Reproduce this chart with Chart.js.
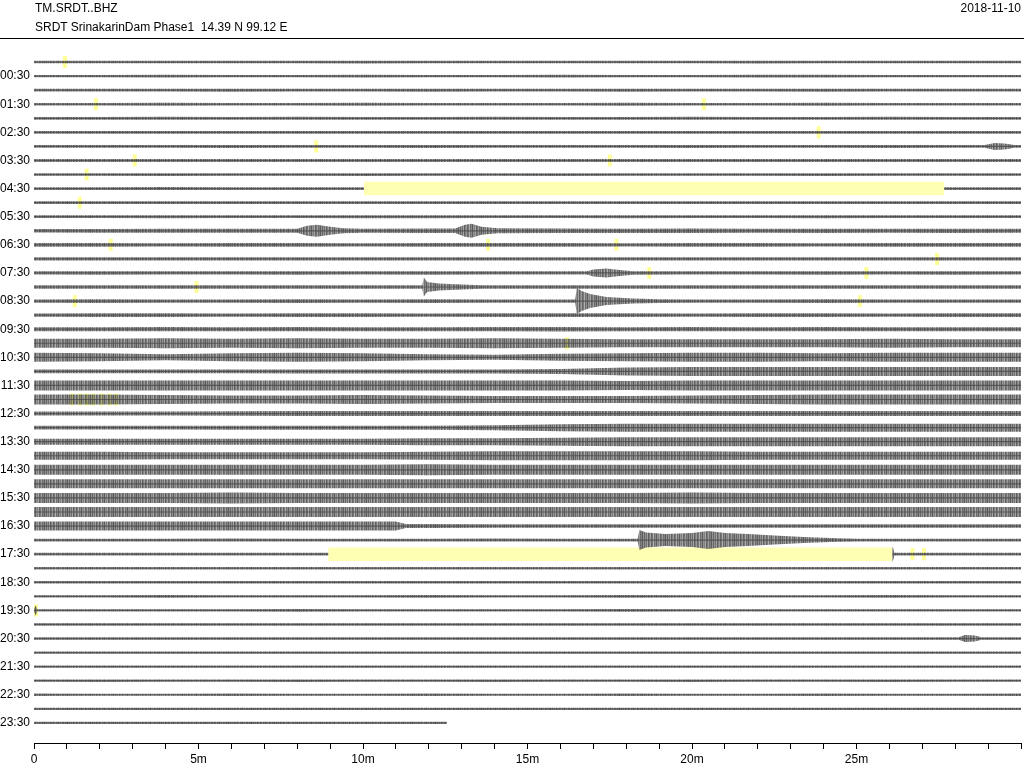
<!DOCTYPE html>
<html>
<head>
<meta charset="utf-8">
<script src="https://cdn.jsdelivr.net/npm/chart.js@4.4.0/dist/chart.umd.min.js"></script>
<style>
  body { margin: 0; background: #fff; font-family: "Liberation Sans", Arial, sans-serif; }
  #wrap { position: relative; width: 1024px; height: 768px; overflow: hidden; }
  canvas { position: absolute; left: 0; top: 0; }
  .hdr { position: absolute; font-size: 12px; line-height: 14px; color: #000; white-space: pre; }
  #rule { position: absolute; left: 0; top: 38px; width: 1024px; height: 1px; background: #000; }
</style>
</head>
<body>
<div id="wrap">
  <canvas id="heli" width="1024" height="768"></canvas>
  <div class="hdr" style="left:35px; top:1px">TM.SRDT..BHZ</div>
  <div class="hdr" style="left:35px; top:20px">SRDT SrinakarinDam Phase1  14.39 N 99.12 E</div>
  <div class="hdr" style="right:3px; top:1px">2018-11-10</div>
  <div id="rule"></div>
</div>
<script>
//////////////// DATA
// minute marks where the envelope of every trace line is read
const sampleMinutes = [0, 2, 4, 6, 8, 10, 12, 14, 16, 18, 20, 22, 24, 26, 28, 30];

// labels on the odd rows (row 1 = 00:30 ... row 47 = 23:30)
const rowLabels = [
  '00:30', '01:30', '02:30', '03:30', '04:30', '05:30', '06:30', '07:30',
  '08:30', '09:30', '10:30', '11:30', '12:30', '13:30', '14:30', '15:30',
  '16:30', '17:30', '18:30', '19:30', '20:30', '21:30', '22:30', '23:30',
];

const xTickMinutes = [0, 5, 10, 15, 20, 25];
const xTickLabels = ['0', '5m', '10m', '15m', '20m', '25m'];

// half amplitude of each trace at the sample minutes (one list per 30 min row)
const ampRows00to05 = [
  [1.3,1.3,1.2,1.3,1.3,1.4,1.3,1.3,1.2,1.3,1.3,1.4,1.3,1.3,1.3,1.3],
  [1.2,1.2,1.3,1.2,1.2,1.3,1.2,1.2,1.3,1.2,1.2,1.3,1.3,1.2,1.2,1.2],
  [1.4,1.4,1.4,1.5,1.4,1.4,1.5,1.4,1.4,1.5,1.4,1.4,1.5,1.4,1.4,1.4],
  [1.3,1.3,1.4,1.3,1.3,1.4,1.3,1.3,1.3,1.4,1.3,1.3,1.4,1.3,1.3,1.3],
  [1.4,1.4,1.5,1.4,1.5,1.4,1.4,1.5,1.4,1.4,1.5,1.4,1.4,1.5,1.4,1.4],
  [1.3,1.3,1.4,1.3,1.3,1.3,1.4,1.3,1.3,1.4,1.3,1.3,1.3,1.4,1.3,1.3],
  [1.4,1.4,1.4,1.5,1.4,1.4,1.5,1.4,1.4,1.4,1.5,1.4,1.4,1.5,1.4,1.4],
  [1.4,1.5,1.4,1.4,1.5,1.4,1.4,1.5,1.4,1.4,1.5,1.4,1.4,1.4,1.5,1.4],
  [1.3,1.3,1.4,1.3,1.3,1.4,1.3,1.3,1.4,1.3,1.3,1.3,1.4,1.3,1.3,1.3],
  [1.4,1.4,1.5,1.4,1.4,1.4,1.5,1.4,1.4,1.4,1.4,1.4,1.4,1.5,1.4,1.4],
  [1.3,1.4,1.3,1.3,1.4,1.3,1.3,1.4,1.3,1.3,1.4,1.3,1.3,1.4,1.3,1.3],
  [1.4,1.4,1.5,1.4,1.4,1.5,1.5,1.4,1.4,1.5,1.4,1.4,1.5,1.4,1.4,1.4],
];
const ampRows06to11 = [
  [1.8,1.9,2.0,2.0,2.1,2.0,2.2,2.0,2.2,2.1,2.2,2.0,2.1,2.0,2.1,2.0],
  [1.8,1.8,1.7,1.8,1.8,1.7,1.8,1.8,1.8,1.7,1.8,1.8,1.7,1.8,1.8,1.8],
  [1.6,1.6,1.7,1.6,1.6,1.7,1.6,1.6,1.7,1.6,1.6,1.7,1.6,1.6,1.7,1.6],
  [1.6,1.7,1.6,1.6,1.7,1.6,1.7,1.6,1.6,1.7,1.6,1.6,1.7,1.6,1.7,1.6],
  [1.7,1.7,1.8,1.7,1.7,1.8,1.7,1.7,1.8,1.7,1.7,1.8,1.7,1.7,1.8,1.7],
  [1.7,1.8,1.7,1.7,1.8,1.7,1.8,1.7,1.7,1.8,1.7,1.7,1.8,1.7,1.7,1.7],
  [1.7,1.8,1.8,1.7,1.8,1.8,1.7,1.8,1.8,1.8,1.7,1.8,1.8,1.7,1.8,1.8],
  [2.0,2.0,2.1,2.0,2.1,2.0,2.0,2.1,2.2,2.0,2.1,2.0,2.1,2.0,2.0,2.0],
  [4.5,4.5,5.0,4.5,5.0,4.5,4.5,5.0,4.5,4.0,4.0,4.0,4.0,4.5,4.0,4.0],
  [4.5,4.0,3.0,4.0,4.5,4.0,3.0,2.5,3.5,4.0,4.5,4.5,4.0,4.5,4.5,4.5],
  [1.8,1.8,1.8,1.8,2.0,2.0,2.0,2.0,2.5,4.0,4.5,4.5,4.5,4.5,4.5,4.5],
  [5.0,5.0,5.0,5.0,5.0,5.0,5.0,5.0,5.0,4.5,5.0,5.0,5.0,5.0,5.0,5.0],
];
const ampRows12to17 = [
  [5.0,5.0,4.5,4.0,4.0,4.5,4.0,3.5,3.5,3.5,4.0,4.5,5.0,5.0,5.0,5.0],
  [2.0,2.0,2.0,2.2,2.5,2.5,2.5,2.5,2.5,2.5,2.5,2.5,2.5,2.5,2.5,2.5],
  [1.8,1.8,1.8,2.0,2.0,2.0,2.0,2.5,3.5,4.0,4.0,4.0,4.0,4.0,4.0,4.0],
  [3.0,3.0,3.0,3.0,3.0,3.0,3.5,3.5,4.0,4.5,4.5,4.5,4.5,4.5,4.5,4.5],
  [4.0,4.0,3.5,3.5,3.5,3.5,4.0,4.5,4.5,4.5,4.5,4.0,4.0,4.0,4.0,4.0],
  [5.0,5.0,5.0,5.0,5.0,5.0,5.5,5.0,5.0,5.0,5.0,5.0,5.0,5.0,5.0,5.0],
  [4.5,4.5,4.5,4.5,4.5,4.5,4.5,4.5,4.5,4.5,4.5,4.5,4.5,4.5,4.5,4.5],
  [5.0,5.0,5.0,5.5,5.0,5.0,5.0,5.0,5.0,5.0,5.5,5.0,5.0,5.0,5.0,5.0],
  [5.0,5.0,5.0,5.0,5.0,5.0,5.0,5.0,5.0,5.0,5.0,5.0,5.0,5.0,5.0,5.0],
  [4.5,4.5,4.5,4.5,4.5,4.5,2.0,1.8,1.8,1.8,1.8,1.8,1.8,1.8,1.8,1.8],
  [1.4,1.4,1.4,1.5,1.4,1.4,1.4,1.5,1.4,1.4,1.4,1.4,1.4,1.4,1.4,1.4],
  [1.3,1.3,1.3,1.3,1.4,1.3,1.3,1.3,1.3,1.3,1.3,1.3,1.3,1.3,1.3,1.3],
];
const ampRows18to23 = [
  [1.3,1.3,1.2,1.3,1.3,1.2,1.3,1.3,1.2,1.3,1.3,1.2,1.3,1.3,1.2,1.3],
  [1.2,1.2,1.2,1.3,1.2,1.2,1.2,1.3,1.2,1.2,1.2,1.2,1.3,1.2,1.2,1.2],
  [1.2,1.2,1.3,1.2,1.2,1.2,1.3,1.2,1.2,1.3,1.2,1.2,1.2,1.3,1.2,1.2],
  [1.2,1.2,1.2,1.2,1.3,1.2,1.2,1.2,1.2,1.3,1.2,1.2,1.2,1.2,1.2,1.2],
  [1.2,1.3,1.2,1.2,1.2,1.2,1.3,1.2,1.2,1.2,1.2,1.3,1.2,1.2,1.2,1.2],
  [1.2,1.2,1.2,1.2,1.2,1.3,1.2,1.2,1.2,1.2,1.2,1.2,1.3,1.2,1.2,1.2],
  [1.1,1.2,1.1,1.2,1.1,1.2,1.1,1.2,1.1,1.2,1.1,1.2,1.1,1.2,1.1,1.2],
  [1.1,1.1,1.2,1.1,1.1,1.2,1.1,1.1,1.2,1.1,1.1,1.2,1.1,1.1,1.2,1.1],
  [1.1,1.2,1.1,1.1,1.2,1.1,1.1,1.2,1.1,1.1,1.2,1.1,1.1,1.2,1.1,1.1],
  [1.2,1.1,1.1,1.2,1.1,1.1,1.2,1.1,1.1,1.2,1.1,1.1,1.2,1.1,1.1,1.2],
  [1.1,1.1,1.2,1.1,1.1,1.1,1.2,1.1,1.1,1.1,1.2,1.1,1.1,1.1,1.2,1.1],
  [1.1,1.2,1.1,1.1,1.1,1.2,1.1,1.1,1.1,1.2,1.1,1.1,1.1,1.1,1.1,1.1],
];

// quakes and bursts: [row, [[minute, half amplitude], ...]]
const events = [
  [6,  [[28.9,1.4],[29.2,3.5],[29.5,3.0],[29.8,1.4]]],
  [12, [[8.0,2.0],[8.3,5.0],[8.6,6.0],[9.0,4.0],[9.4,2.5]]],
  [12, [[12.8,2.2],[13.1,6.0],[13.3,7.0],[13.6,4.0],[14.1,2.5]]],
  [15, [[16.8,1.6],[17.0,3.5],[17.4,4.5],[17.8,3.0],[18.2,1.8]]],
  [16, [[11.8,1.7],[11.85,9.5],[11.95,5.0],[12.3,3.5],[13.0,2.5],[13.6,1.8]]],
  [17, [[16.45,1.7],[16.5,13.0],[16.65,10.0],[16.9,7.0],[17.4,4.0],[18.2,2.5],[19.0,1.8]]],
  [33, [[11.0,4.5],[11.3,2.0]]],
  [34, [[18.35,1.4],[18.4,10.0],[18.6,7.5],[19.2,6.0],[20.0,7.0],[20.5,9.0],[21.0,7.0],[21.7,6.0],[22.5,4.5],[23.4,3.0],[24.2,2.0],[25.0,1.4]]],
  [35, [[26.05,1.3],[26.1,8.0],[26.15,1.3]]],
  [39, [[0,1.2],[0.05,5.0],[0.1,1.2]]],
  [41, [[28.1,1.2],[28.3,3.5],[28.6,3.0],[28.8,1.2]]],
];

const lastRowEnd = 12.55; // last trace stops here (minutes)

// small yellow pick marks: [minute, row]
const yellowMarks = [
  [0.94,0],[1.88,3],[20.36,3],[23.85,5],[8.58,6],[3.06,7],[17.5,7],[1.6,8],
  [1.39,10],[2.33,13],[13.8,13],[17.7,13],[27.45,14],[18.7,15],[25.3,15],
  [4.94,16],[1.24,17],[25.1,17],[16.2,20],[1.15,24],[1.4,24],[1.6,24],
  [1.8,24],[2.05,24],[2.3,24],[2.5,24],[26.7,35],[27.05,35],[0.06,39],
];

// long yellow event windows: [start minute, end minute, row]
const eventBoxes = [
  [10.03, 27.67, 9],
  [8.94, 26.09, 35],
];

//////////////// BUILD
const allRows = [].concat(ampRows00to05, ampRows06to11, ampRows12to17, ampRows18to23);
const ampToRow = 1 / 14.06;

// uneven striped fill so the bands read as dense wiggles instead of solid bars
function wiggleFill() {
  const alphas = [0.85, 0.6, 0.8, 0.5, 0.9, 0.7, 0.55, 0.85, 0.75, 0.45, 0.8, 0.65,
                  0.9, 0.6, 0.7, 0.5, 0.85, 0.75, 0.55, 0.8, 0.7, 0.9, 0.6];
  const tile = document.createElement('canvas');
  tile.width = alphas.length;
  tile.height = 1;
  const tctx = tile.getContext('2d');
  alphas.forEach((a, i) => {
    tctx.fillStyle = `rgba(75,75,75,${a})`;
    tctx.fillRect(i, 0, 1, 1);
  });
  return tctx.createPattern(tile, 'repeat');
}
const bandFill = wiggleFill();

function tracePoints(row) {
  let pts = sampleMinutes.map((m, i) => [m, allRows[row][i]]);
  events.filter(e => e[0] === row).forEach(e => {
    const s = e[1][0][0];
    const t = e[1][e[1].length - 1][0];
    pts = pts.filter(p => p[0] < s || p[0] > t).concat(e[1]);
  });
  pts.sort((a, b) => a[0] - b[0]);
  if (row === allRows.length - 1) {
    pts = pts.filter(p => p[0] <= lastRowEnd);
    pts.push([lastRowEnd, pts[pts.length - 1][1]]);
  }
  return pts;
}

const datasets = [];

// marks first (underneath everything)
datasets.push({
  data: yellowMarks.map(m => ({ x: m[0], y: m[1] })),
  showLine: false,
  pointStyle: 'line',
  pointRotation: 90,
  pointRadius: 6,
  pointBorderWidth: 4,
  pointBorderColor: 'rgba(255,255,140,0.9)',
  order: 5,
});

allRows.forEach((amps, row) => {
  const pts = tracePoints(row);
  const ord = eventBoxes.some(b => b[2] === row) ? 3 : 1;
  datasets.push({
    data: pts.map(p => ({ x: p[0], y: row - p[1] * ampToRow })),
    borderWidth: 0, pointRadius: 0, fill: false, order: ord,
  });
  datasets.push({
    data: pts.map(p => ({ x: p[0], y: row + p[1] * ampToRow })),
    borderWidth: 0, pointRadius: 0, fill: '-1',
    backgroundColor: bandFill, order: ord,
  });
  // the dark core of the trace
  datasets.push({
    data: [{ x: pts[0][0], y: row }, { x: pts[pts.length - 1][0], y: row }],
    borderWidth: 1.2, borderColor: 'rgba(85,85,85,0.85)', pointRadius: 0, fill: false, order: ord,
  });
});

eventBoxes.forEach(b => {
  datasets.push({
    data: [{ x: b[0], y: b[2] - 0.48 }, { x: b[1], y: b[2] - 0.48 }],
    borderWidth: 0, pointRadius: 0,
    fill: { target: { value: b[2] + 0.48 } },
    backgroundColor: '#ffffb4',
    order: 2,
  });
});

Chart.defaults.font.family = '"Liberation Sans", Arial, sans-serif';
Chart.defaults.font.size = 12;
Chart.defaults.color = '#000';

new Chart(document.getElementById('heli'), {
  type: 'line',
  data: { datasets: datasets },
  options: {
    responsive: false,
    animation: false,
    events: [],
    layout: { autoPadding: false, padding: { top: 48, left: 0, right: 0, bottom: 0 } },
    plugins: { legend: { display: false }, tooltip: { enabled: false } },
    scales: {
      x: {
        type: 'linear', min: 0, max: 30,
        afterFit: s => { s.height = 25; },
        grid: { display: true, drawOnChartArea: false, drawTicks: true, tickLength: 6, color: '#000', tickColor: '#000' },
        border: { display: true, color: '#000', width: 1 },
        ticks: {
          stepSize: 1, autoSkip: false, maxRotation: 0, padding: 3,
          callback: v => {
            const i = xTickMinutes.indexOf(v);
            return i >= 0 ? xTickLabels[i] : '';
          },
        },
      },
      y: {
        type: 'linear', reverse: true, min: -1, max: 48.43,
        afterFit: s => { s.width = 34; },
        grid: { display: false, drawTicks: false },
        border: { display: false },
        ticks: {
          stepSize: 1, autoSkip: false, padding: 4,
          callback: v => (Number.isInteger(v) && v % 2 === 1 && v <= 47) ? rowLabels[(v - 1) / 2] : '',
        },
      },
    },
  },
});
</script>
</body>
</html>
